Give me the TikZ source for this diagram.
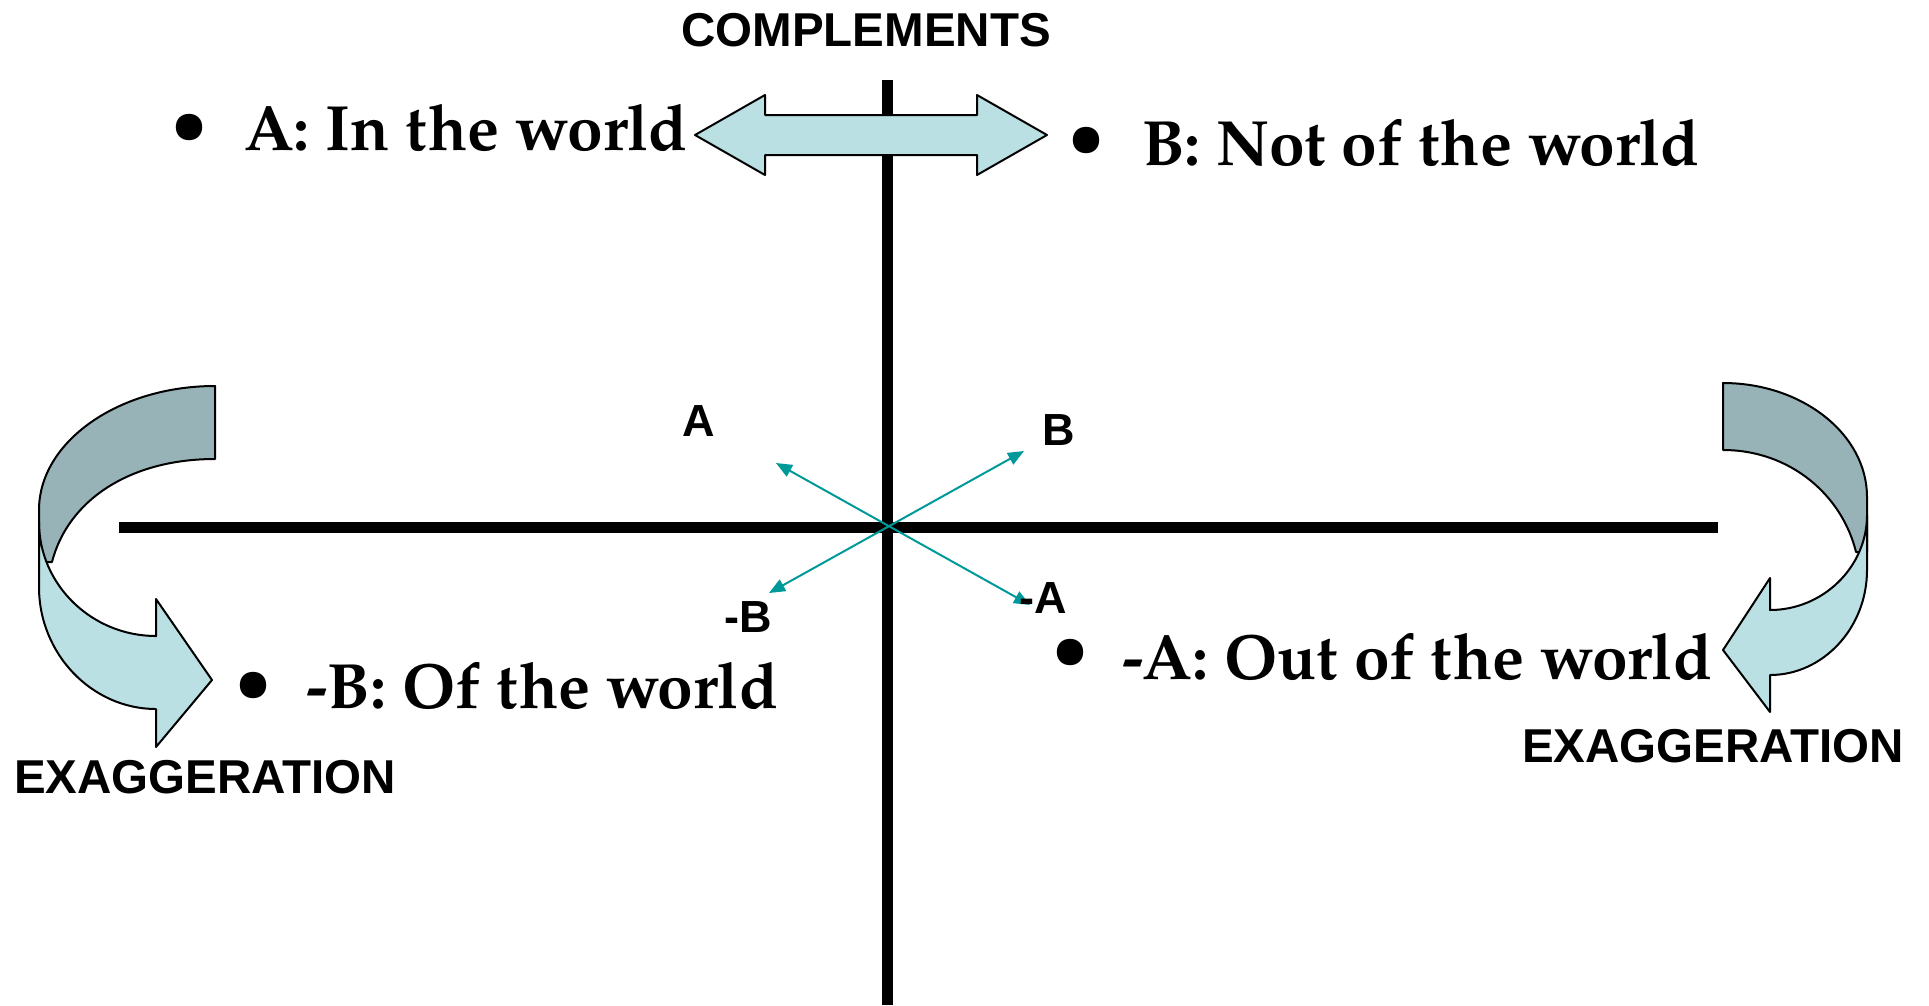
\documentclass[tikz,border=0pt]{standalone}
\usepackage{fontspec}
\setsansfont{Liberation Sans}
\newfontfamily\palb[Extension=.otf,UprightFont=*-bold]{texgyrepagella}
\usetikzlibrary{arrows.meta}
\definecolor{darkband}{RGB}{151,179,183}
\definecolor{lightband}{RGB}{186,224,227}
\definecolor{tealline}{RGB}{0,153,153}
\tikzset{
  axis/.style={line width=11pt},
  band/.style={draw=black,line width=2pt,line join=round},
  tealarr/.style={draw=tealline,line width=2pt,{Triangle[length=16pt,width=13pt]}-{Triangle[length=16pt,width=13pt]}},
  sanslab/.style={inner sep=0pt,font=\sffamily\bfseries\fontsize{45}{45}\selectfont},
  biglab/.style={inner sep=0pt,font=\sffamily\bfseries\fontsize{47.5}{47.5}\selectfont},
  bullettext/.style={inner sep=0pt,anchor=base west,font=\palb\fontsize{64}{64}\selectfont},
  bulletdot/.style={inner sep=0pt,font=\palb\fontsize{60}{60}\selectfont}
}
\begin{document}
\begin{tikzpicture}[x=1pt,y=-1pt]
\useasboundingbox (0,0) rectangle (1929,1005);
% axes
\draw[axis] (887,80) -- (887,1005);
\draw[axis] (119,527) -- (1718,527);
% double arrow
\draw[band,fill=lightband] (695,135) -- (765,95) -- (765,115) -- (977,115) -- (977,95) -- (1047,135)
  -- (977,175) -- (977,155) -- (765,155) -- (765,175) -- cycle;
% teal arrows
\coordinate (O) at (887,527);
\coordinate (ta) at (776,463);
\coordinate (tna) at (1030,605);
\coordinate (tb) at (1024,451);
\coordinate (tnb) at (769,593);
\draw[tealarr] (ta) -- (tna);
\draw[tealarr] (tnb) -- (tb);
% left curved arrow
\draw[band,fill=darkband] (215,386) .. controls (118,386) and (39,442) .. (39,510) -- (39,562) -- (52,562)
  .. controls (68,500) and (130,459) .. (215,459) -- cycle;
\draw[band,fill=lightband] (39,522) -- (39,587) .. controls (39,654) and (92,709) .. (156,709)
  -- (156,747) -- (212,680) -- (156,599) -- (156,636)
  .. controls (92,636) and (39,585) .. (39,522) -- cycle;
% right curved arrow
\draw[band,fill=darkband] (1723,383) .. controls (1802,383) and (1867,434) .. (1867,497) -- (1867,552) -- (1856,552)
  .. controls (1842,495) and (1790,450) .. (1723,450) -- cycle;
\draw[band,fill=lightband] (1867,515) -- (1867,570) .. controls (1867,628) and (1823,675) .. (1770,675)
  -- (1770,712) -- (1723,650) -- (1770,578) -- (1770,610)
  .. controls (1823,610) and (1867,567) .. (1867,515) -- cycle;
% labels
\node[biglab] (comp) at (866,30) {COMPLEMENTS};
\node[biglab] (exl) at (205,777) {EXAGGERATION};
\node[biglab] (exr) at (1713,746) {EXAGGERATION};
\node[sanslab] (la) at (699,421) {A};
\node[sanslab] (lb) at (1059,430) {B};
\node[sanslab] (lnb) at (748,617) {-B};
\node[sanslab] (lna) at (1043,598) {-A};
% bullet texts
\node[bulletdot] (d1) at (189,128) {•};
\node[bullettext] (t1) at (244,150) {A: In the world};
\node[bulletdot] (d2) at (1086,141) {•};
\node[bullettext] (t2) at (1142,165) {B: Not of the world};
\node[bulletdot] (d3) at (253,686) {•};
\node[bullettext] (t3) at (306,708) {-B: Of the world};
\node[bulletdot] (d4) at (1070,653) {•};
\node[bullettext] (t4) at (1122,679) {-A: Out of the world};
\end{tikzpicture}
\end{document}
